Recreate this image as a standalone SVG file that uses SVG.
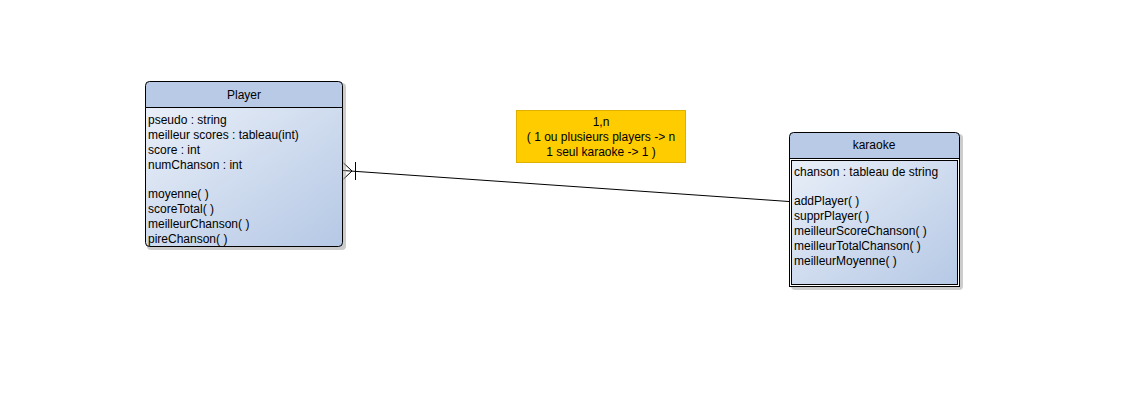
<svg xmlns="http://www.w3.org/2000/svg" width="1131" height="414" viewBox="0 0 1131 414">
<defs>
<linearGradient id="body" x1="0" y1="0" x2="1" y2="1">
<stop offset="0" stop-color="#e9eff8"/>
<stop offset="1" stop-color="#b5c8e5"/>
</linearGradient>
<style>
text{font-family:"Liberation Sans",Arial,sans-serif;font-size:12px;fill:#000}
.t{text-anchor:middle}
.hdr{fill:#b8cae6;stroke:#000;stroke-width:1}
.bd{fill:url(#body);stroke:#000;stroke-width:1}
.sh{fill:#999;opacity:0.5}
.ln{stroke:#000;stroke-width:1;fill:none}
</style>
</defs>
<rect width="1131" height="414" fill="#fff"/>
<g id="connectors">
<line class="ln" x1="343" y1="170.5" x2="789" y2="201.5"/>
<polyline class="ln" points="343.5,163 352,171 343.5,179"/>
<line class="ln" x1="355.5" y1="162" x2="355.5" y2="180"/>
</g>
<g id="player">
<rect class="sh" x="147" y="83" width="199" height="167" rx="4"/>
<path class="hdr" d="M145.5,107.5 V85.5 a4,4 0 0 1 4,-4 H338.5 a4,4 0 0 1 4,4 V107.5 Z"/>
<path class="bd" d="M145.5,107.5 H342.5 V242.5 a4,4 0 0 1 -4,4 H149.5 a4,4 0 0 1 -4,-4 Z"/>
<text class="t" x="244" y="99">Player</text>
<text x="148" y="124">pseudo : string</text>
<text x="148" y="139">meilleur scores : tableau(int)</text>
<text x="148" y="154">score : int</text>
<text x="148" y="169">numChanson : int</text>
<text x="148" y="198">moyenne( )</text>
<text x="148" y="213">scoreTotal( )</text>
<text x="148" y="228">meilleurChanson( )</text>
<text x="148" y="243">pireChanson( )</text>
</g>
<g id="karaoke">
<rect class="sh" x="791" y="134" width="172" height="156" rx="4"/>
<path class="hdr" d="M789.5,158.5 V136.5 a4,4 0 0 1 4,-4 H955.5 a4,4 0 0 1 4,4 V158.5 Z"/>
<rect class="bd" x="789.5" y="158.5" width="170" height="128"/>
<rect x="790.5" y="159.5" width="168" height="126" fill="none" stroke="#fff" stroke-width="1"/>
<rect class="ln" x="791.5" y="160.5" width="166" height="124"/>
<text class="t" x="874" y="149">karaoke</text>
<text x="794" y="176">chanson : tableau de string</text>
<text x="794" y="205">addPlayer( )</text>
<text x="794" y="220">supprPlayer( )</text>
<text x="794" y="235">meilleurScoreChanson( )</text>
<text x="794" y="250">meilleurTotalChanson( )</text>
<text x="794" y="265">meilleurMoyenne( )</text>
</g>
<g id="note">
<rect x="516.5" y="110.5" width="169" height="52" fill="#ffcc00" stroke="#e0b000" stroke-width="1"/>
<text class="t" x="601" y="126">1,n</text>
<text class="t" x="601" y="141">( 1 ou plusieurs players -&gt; n</text>
<text class="t" x="601" y="156">1 seul karaoke -&gt; 1 )</text>
</g>
</svg>
